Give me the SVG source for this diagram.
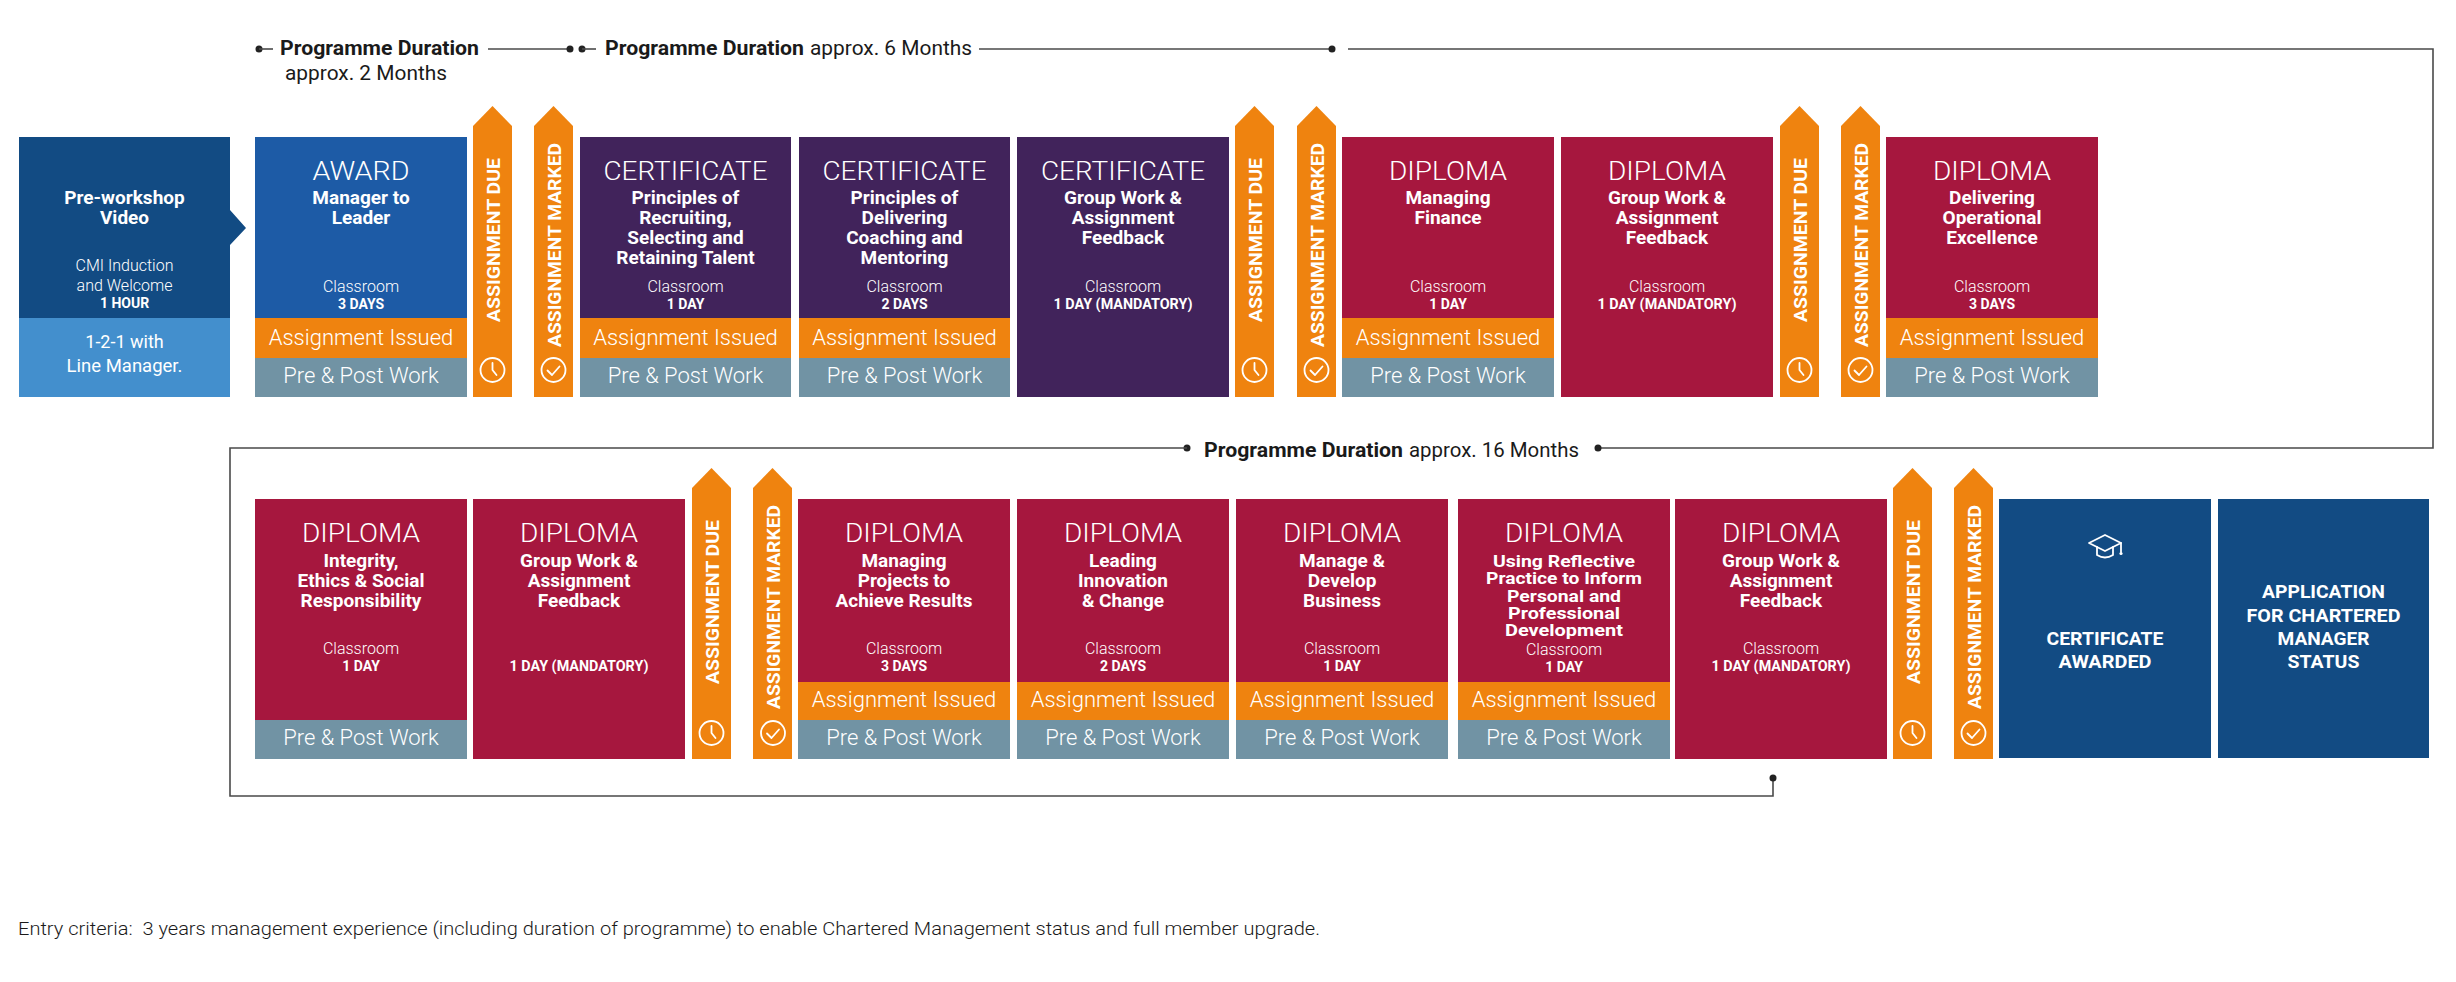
<svg xmlns="http://www.w3.org/2000/svg" xmlns:xlink="http://www.w3.org/1999/xlink" width="2456" height="982" viewBox="0 0 2456 982">
<style>
.t{font-family:Roboto,'Liberation Sans',Arial,sans-serif;fill:#fff;text-anchor:middle}
.h{font-size:25px;font-weight:300}
.b{font-size:19px;font-weight:700}
.br{font-size:16.5px;font-weight:700}
.c{font-size:16px;font-weight:300}
.d{font-size:14px;font-weight:700}
.ai{font-size:22px;font-weight:300}
.v{font-size:19px;font-weight:700}
.fin{font-size:18px;font-weight:700}
.lbl{font-family:Roboto,'Liberation Sans',Arial,sans-serif;fill:#1a1a1a;font-size:20px}
.ln{stroke:#4a4a4a;stroke-width:1.6;fill:none}
.dot{fill:#222}
.ic{stroke:#fff;stroke-width:1.8;fill:none;stroke-linecap:round;stroke-linejoin:round}
.navy{fill:#124b83}.blue{fill:#1d5ba6}.lb{fill:#438fcd}.pur{fill:#41235b}.cr{fill:#a6173e}.or{fill:#ef830f}.gr{fill:#7193a4}
</style>
<defs>
<path id="arr" d="M0,20 L19.5,0 L39,20 V291 H0 Z"/>
<g id="clock" class="ic"><circle r="12"/><path d="M0,-7 V0 L4,5"/></g>
<g id="check" class="ic"><circle r="12"/><path d="M-6,0.5 L-1.5,5 L6,-3.5"/></g>
</defs>
<rect width="2456" height="982" fill="#fff"/>

<g id="connectors">
<circle class="dot" cx="259" cy="49" r="3.5"/>
<line class="ln" x1="259" y1="49" x2="273" y2="49"/>
<line class="ln" x1="488" y1="49" x2="570" y2="49"/>
<circle class="dot" cx="570" cy="49" r="3.5"/>
<circle class="dot" cx="582" cy="49" r="3.5"/>
<line class="ln" x1="582" y1="49" x2="596" y2="49"/>
<line class="ln" x1="979" y1="49" x2="1332" y2="49"/>
<circle class="dot" cx="1332" cy="49" r="3.5"/>
<polyline class="ln" points="1348,49 2433,49 2433,448 1598,448"/>
<circle class="dot" cx="1598" cy="448" r="3.5"/>
<circle class="dot" cx="1187" cy="448" r="3.5"/>
<polyline class="ln" points="1187,448 230,448 230,796 1773,796 1773,778"/>
<circle class="dot" cx="1773" cy="778" r="3.5"/>
<text class="lbl" x="280" y="55" font-weight="700" textLength="199" lengthAdjust="spacingAndGlyphs">Programme Duration</text>
<text class="lbl" x="285" y="80" textLength="162" lengthAdjust="spacingAndGlyphs">approx. 2 Months</text>
<text class="lbl" x="605" y="55" font-weight="700" textLength="199" lengthAdjust="spacingAndGlyphs">Programme Duration</text>
<text class="lbl" x="810" y="55" textLength="162" lengthAdjust="spacingAndGlyphs">approx. 6 Months</text>
<text class="lbl" x="1204" y="457" font-weight="700" textLength="199" lengthAdjust="spacingAndGlyphs">Programme Duration</text>
<text class="lbl" x="1409" y="457" textLength="170" lengthAdjust="spacingAndGlyphs">approx. 16 Months</text>
</g>

<g id="pre-workshop">
<path class="navy" d="M19,137 H230 V210 L246,228 L230,245 V318 H19 Z"/>
<rect class="lb" x="19" y="318" width="211" height="79"/>
<text class="t b" x="124.5" y="204">Pre-workshop</text>
<text class="t b" x="124.5" y="224">Video</text>
<text class="t c" x="124.5" y="271">CMI Induction</text>
<text class="t c" x="124.5" y="291">and Welcome</text>
<text class="t d" x="124.5" y="308">1 HOUR</text>
<text class="t" x="124.5" y="348" font-size="18">1-2-1 with</text>
<text class="t" x="124.5" y="372" font-size="18.5">Line Manager.</text>
</g>

<g id="award">
<rect class="blue" x="255" y="137" width="212" height="181"/>
<rect class="or" x="255" y="318" width="212" height="40"/>
<rect class="gr" x="255" y="358" width="212" height="39"/>
<text class="t h" x="361" y="180" textLength="97" lengthAdjust="spacingAndGlyphs">AWARD</text>
<text class="t b" x="361" y="204">Manager to</text>
<text class="t b" x="361" y="224">Leader</text>
<text class="t c" x="361" y="292">Classroom</text>
<text class="t d" x="361" y="309">3 DAYS</text>
<text class="t ai" x="361" y="345">Assignment Issued</text>
<text class="t ai" x="361" y="383">Pre &amp; Post Work</text>
</g>

<g id="due-1"><use xlink:href="#arr" href="#arr" x="473" y="106" class="or"/>
<text class="t v" transform="translate(499.5,240) rotate(-90)" textLength="164" lengthAdjust="spacingAndGlyphs">ASSIGNMENT DUE</text>
<use xlink:href="#clock" href="#clock" x="492.5" y="370"/></g>
<g id="marked-1"><use xlink:href="#arr" href="#arr" x="534" y="106" class="or"/>
<text class="t v" transform="translate(561,245) rotate(-90)" textLength="204" lengthAdjust="spacingAndGlyphs">ASSIGNMENT MARKED</text>
<use xlink:href="#check" href="#check" x="553.5" y="370"/></g>

<g id="cert-recruiting">
<rect class="pur" x="580" y="137" width="211" height="181"/>
<rect class="or" x="580" y="318" width="211" height="40"/>
<rect class="gr" x="580" y="358" width="211" height="39"/>
<text class="t h" x="685.5" y="180" textLength="164" lengthAdjust="spacingAndGlyphs">CERTIFICATE</text>
<text class="t b" x="685.5" y="204">Principles of</text>
<text class="t b" x="685.5" y="224">Recruiting,</text>
<text class="t b" x="685.5" y="244">Selecting and</text>
<text class="t b" x="685.5" y="264">Retaining Talent</text>
<text class="t c" x="685.5" y="292">Classroom</text>
<text class="t d" x="685.5" y="309">1 DAY</text>
<text class="t ai" x="685.5" y="345">Assignment Issued</text>
<text class="t ai" x="685.5" y="383">Pre &amp; Post Work</text>
</g>

<g id="cert-coaching">
<rect class="pur" x="799" y="137" width="211" height="181"/>
<rect class="or" x="799" y="318" width="211" height="40"/>
<rect class="gr" x="799" y="358" width="211" height="39"/>
<text class="t h" x="904.5" y="180" textLength="164" lengthAdjust="spacingAndGlyphs">CERTIFICATE</text>
<text class="t b" x="904.5" y="204">Principles of</text>
<text class="t b" x="904.5" y="224">Delivering</text>
<text class="t b" x="904.5" y="244">Coaching and</text>
<text class="t b" x="904.5" y="264">Mentoring</text>
<text class="t c" x="904.5" y="292">Classroom</text>
<text class="t d" x="904.5" y="309">2 DAYS</text>
<text class="t ai" x="904.5" y="345">Assignment Issued</text>
<text class="t ai" x="904.5" y="383">Pre &amp; Post Work</text>
</g>

<g id="cert-groupwork">
<rect class="pur" x="1017" y="137" width="212" height="260"/>
<text class="t h" x="1123" y="180" textLength="164" lengthAdjust="spacingAndGlyphs">CERTIFICATE</text>
<text class="t b" x="1123" y="204">Group Work &amp;</text>
<text class="t b" x="1123" y="224">Assignment</text>
<text class="t b" x="1123" y="244">Feedback</text>
<text class="t c" x="1123" y="292">Classroom</text>
<text class="t d" x="1123" y="309" textLength="139" lengthAdjust="spacingAndGlyphs">1 DAY (MANDATORY)</text>
</g>

<g id="due-2"><use xlink:href="#arr" href="#arr" x="1235" y="106" class="or"/>
<text class="t v" transform="translate(1261.5,240) rotate(-90)" textLength="164" lengthAdjust="spacingAndGlyphs">ASSIGNMENT DUE</text>
<use xlink:href="#clock" href="#clock" x="1254.5" y="370"/></g>
<g id="marked-2"><use xlink:href="#arr" href="#arr" x="1297" y="106" class="or"/>
<text class="t v" transform="translate(1323.5,245) rotate(-90)" textLength="204" lengthAdjust="spacingAndGlyphs">ASSIGNMENT MARKED</text>
<use xlink:href="#check" href="#check" x="1316.5" y="370"/></g>

<g id="dip-finance">
<rect class="cr" x="1342" y="137" width="212" height="181"/>
<rect class="or" x="1342" y="318" width="212" height="40"/>
<rect class="gr" x="1342" y="358" width="212" height="39"/>
<text class="t h" x="1448" y="180" textLength="118" lengthAdjust="spacingAndGlyphs">DIPLOMA</text>
<text class="t b" x="1448" y="204">Managing</text>
<text class="t b" x="1448" y="224">Finance</text>
<text class="t c" x="1448" y="292">Classroom</text>
<text class="t d" x="1448" y="309">1 DAY</text>
<text class="t ai" x="1448" y="345">Assignment Issued</text>
<text class="t ai" x="1448" y="383">Pre &amp; Post Work</text>
</g>

<g id="dip-groupwork-1">
<rect class="cr" x="1561" y="137" width="212" height="260"/>
<text class="t h" x="1667" y="180" textLength="118" lengthAdjust="spacingAndGlyphs">DIPLOMA</text>
<text class="t b" x="1667" y="204">Group Work &amp;</text>
<text class="t b" x="1667" y="224">Assignment</text>
<text class="t b" x="1667" y="244">Feedback</text>
<text class="t c" x="1667" y="292">Classroom</text>
<text class="t d" x="1667" y="309" textLength="139" lengthAdjust="spacingAndGlyphs">1 DAY (MANDATORY)</text>
</g>

<g id="due-3"><use xlink:href="#arr" href="#arr" x="1780" y="106" class="or"/>
<text class="t v" transform="translate(1806.5,240) rotate(-90)" textLength="164" lengthAdjust="spacingAndGlyphs">ASSIGNMENT DUE</text>
<use xlink:href="#clock" href="#clock" x="1799.5" y="370"/></g>
<g id="marked-3"><use xlink:href="#arr" href="#arr" x="1841" y="106" class="or"/>
<text class="t v" transform="translate(1867.5,245) rotate(-90)" textLength="204" lengthAdjust="spacingAndGlyphs">ASSIGNMENT MARKED</text>
<use xlink:href="#check" href="#check" x="1860.5" y="370"/></g>

<g id="dip-operational">
<rect class="cr" x="1886" y="137" width="212" height="181"/>
<rect class="or" x="1886" y="318" width="212" height="40"/>
<rect class="gr" x="1886" y="358" width="212" height="39"/>
<text class="t h" x="1992" y="180" textLength="118" lengthAdjust="spacingAndGlyphs">DIPLOMA</text>
<text class="t b" x="1992" y="204">Delivering</text>
<text class="t b" x="1992" y="224">Operational</text>
<text class="t b" x="1992" y="244">Excellence</text>
<text class="t c" x="1992" y="292">Classroom</text>
<text class="t d" x="1992" y="309">3 DAYS</text>
<text class="t ai" x="1992" y="345">Assignment Issued</text>
<text class="t ai" x="1992" y="383">Pre &amp; Post Work</text>
</g>

<g id="dip-integrity">
<rect class="cr" x="255" y="499" width="212" height="221"/>
<rect class="gr" x="255" y="720" width="212" height="39"/>
<text class="t h" x="361" y="542" textLength="118" lengthAdjust="spacingAndGlyphs">DIPLOMA</text>
<text class="t b" x="361" y="567">Integrity,</text>
<text class="t b" x="361" y="587">Ethics &amp; Social</text>
<text class="t b" x="361" y="607">Responsibility</text>
<text class="t c" x="361" y="654">Classroom</text>
<text class="t d" x="361" y="671">1 DAY</text>
<text class="t ai" x="361" y="745">Pre &amp; Post Work</text>
</g>

<g id="dip-groupwork-2">
<rect class="cr" x="473" y="499" width="212" height="260"/>
<text class="t h" x="579" y="542" textLength="118" lengthAdjust="spacingAndGlyphs">DIPLOMA</text>
<text class="t b" x="579" y="567">Group Work &amp;</text>
<text class="t b" x="579" y="587">Assignment</text>
<text class="t b" x="579" y="607">Feedback</text>
<text class="t d" x="579" y="671" textLength="139" lengthAdjust="spacingAndGlyphs">1 DAY (MANDATORY)</text>
</g>

<g id="due-4"><use xlink:href="#arr" href="#arr" x="692" y="468" class="or"/>
<text class="t v" transform="translate(718.5,602) rotate(-90)" textLength="164" lengthAdjust="spacingAndGlyphs">ASSIGNMENT DUE</text>
<use xlink:href="#clock" href="#clock" x="711.5" y="733"/></g>
<g id="marked-4"><use xlink:href="#arr" href="#arr" x="753" y="468" class="or"/>
<text class="t v" transform="translate(780,607) rotate(-90)" textLength="204" lengthAdjust="spacingAndGlyphs">ASSIGNMENT MARKED</text>
<use xlink:href="#check" href="#check" x="773" y="733"/></g>

<g id="dip-projects">
<rect class="cr" x="798" y="499" width="212" height="183"/>
<rect class="or" x="798" y="682" width="212" height="38"/>
<rect class="gr" x="798" y="720" width="212" height="39"/>
<text class="t h" x="904" y="542" textLength="118" lengthAdjust="spacingAndGlyphs">DIPLOMA</text>
<text class="t b" x="904" y="567">Managing</text>
<text class="t b" x="904" y="587">Projects to</text>
<text class="t b" x="904" y="607">Achieve Results</text>
<text class="t c" x="904" y="654">Classroom</text>
<text class="t d" x="904" y="671">3 DAYS</text>
<text class="t ai" x="904" y="707">Assignment Issued</text>
<text class="t ai" x="904" y="745">Pre &amp; Post Work</text>
</g>

<g id="dip-innovation">
<rect class="cr" x="1017" y="499" width="212" height="183"/>
<rect class="or" x="1017" y="682" width="212" height="38"/>
<rect class="gr" x="1017" y="720" width="212" height="39"/>
<text class="t h" x="1123" y="542" textLength="118" lengthAdjust="spacingAndGlyphs">DIPLOMA</text>
<text class="t b" x="1123" y="567">Leading</text>
<text class="t b" x="1123" y="587">Innovation</text>
<text class="t b" x="1123" y="607">&amp; Change</text>
<text class="t c" x="1123" y="654">Classroom</text>
<text class="t d" x="1123" y="671">2 DAYS</text>
<text class="t ai" x="1123" y="707">Assignment Issued</text>
<text class="t ai" x="1123" y="745">Pre &amp; Post Work</text>
</g>

<g id="dip-business">
<rect class="cr" x="1236" y="499" width="212" height="183"/>
<rect class="or" x="1236" y="682" width="212" height="38"/>
<rect class="gr" x="1236" y="720" width="212" height="39"/>
<text class="t h" x="1342" y="542" textLength="118" lengthAdjust="spacingAndGlyphs">DIPLOMA</text>
<text class="t b" x="1342" y="567">Manage &amp;</text>
<text class="t b" x="1342" y="587">Develop</text>
<text class="t b" x="1342" y="607">Business</text>
<text class="t c" x="1342" y="654">Classroom</text>
<text class="t d" x="1342" y="671">1 DAY</text>
<text class="t ai" x="1342" y="707">Assignment Issued</text>
<text class="t ai" x="1342" y="745">Pre &amp; Post Work</text>
</g>

<g id="dip-reflective">
<rect class="cr" x="1458" y="499" width="212" height="183"/>
<rect class="or" x="1458" y="682" width="212" height="38"/>
<rect class="gr" x="1458" y="720" width="212" height="39"/>
<text class="t h" x="1564" y="542" textLength="118" lengthAdjust="spacingAndGlyphs">DIPLOMA</text>
<text class="t br" x="1564" y="567" textLength="142" lengthAdjust="spacingAndGlyphs">Using Reflective</text>
<text class="t br" x="1564" y="584" textLength="156" lengthAdjust="spacingAndGlyphs">Practice to Inform</text>
<text class="t br" x="1564" y="602" textLength="114" lengthAdjust="spacingAndGlyphs">Personal and</text>
<text class="t br" x="1564" y="619" textLength="112" lengthAdjust="spacingAndGlyphs">Professional</text>
<text class="t br" x="1564" y="636" textLength="118" lengthAdjust="spacingAndGlyphs">Development</text>
<text class="t c" x="1564" y="655">Classroom</text>
<text class="t d" x="1564" y="672">1 DAY</text>
<text class="t ai" x="1564" y="707">Assignment Issued</text>
<text class="t ai" x="1564" y="745">Pre &amp; Post Work</text>
</g>

<g id="dip-groupwork-3">
<rect class="cr" x="1675" y="499" width="212" height="260"/>
<text class="t h" x="1781" y="542" textLength="118" lengthAdjust="spacingAndGlyphs">DIPLOMA</text>
<text class="t b" x="1781" y="567">Group Work &amp;</text>
<text class="t b" x="1781" y="587">Assignment</text>
<text class="t b" x="1781" y="607">Feedback</text>
<text class="t c" x="1781" y="654">Classroom</text>
<text class="t d" x="1781" y="671" textLength="139" lengthAdjust="spacingAndGlyphs">1 DAY (MANDATORY)</text>
</g>

<g id="due-5"><use xlink:href="#arr" href="#arr" x="1893" y="468" class="or"/>
<text class="t v" transform="translate(1919.5,602) rotate(-90)" textLength="164" lengthAdjust="spacingAndGlyphs">ASSIGNMENT DUE</text>
<use xlink:href="#clock" href="#clock" x="1912.5" y="733"/></g>
<g id="marked-5"><use xlink:href="#arr" href="#arr" x="1954" y="468" class="or"/>
<text class="t v" transform="translate(1980.5,607) rotate(-90)" textLength="204" lengthAdjust="spacingAndGlyphs">ASSIGNMENT MARKED</text>
<use xlink:href="#check" href="#check" x="1973.5" y="733"/></g>

<g id="certificate-awarded">
<rect class="navy" x="1999" y="499" width="212" height="259"/>
<g class="ic" stroke-width="1.7">
<path d="M2089,543 L2105,535 L2121,543 L2105,551 Z"/>
<path d="M2097,547 V555 Q2105,560 2113,555 V547"/>
<path d="M2121,543 V552"/>
</g>
<circle cx="2121" cy="553.5" r="1.6" fill="#fff"/>
<text class="t fin" x="2105" y="645" textLength="117" lengthAdjust="spacingAndGlyphs">CERTIFICATE</text>
<text class="t fin" x="2105" y="668" textLength="93" lengthAdjust="spacingAndGlyphs">AWARDED</text>
</g>

<g id="application">
<rect class="navy" x="2218" y="499" width="211" height="259"/>
<text class="t fin" x="2323.5" y="598" textLength="123" lengthAdjust="spacingAndGlyphs">APPLICATION</text>
<text class="t fin" x="2323.5" y="622" textLength="154" lengthAdjust="spacingAndGlyphs">FOR CHARTERED</text>
<text class="t fin" x="2323.5" y="645" textLength="92" lengthAdjust="spacingAndGlyphs">MANAGER</text>
<text class="t fin" x="2323.5" y="668" textLength="72" lengthAdjust="spacingAndGlyphs">STATUS</text>
</g>

<text id="footer" x="18" y="935" xml:space="preserve" font-family="Roboto,'Liberation Sans',Arial,sans-serif" font-size="18" font-weight="300" fill="#1a1a1a" textLength="1302" lengthAdjust="spacingAndGlyphs">Entry criteria:  3 years management experience (including duration of programme) to enable Chartered Management status and full member upgrade.</text>
</svg>
